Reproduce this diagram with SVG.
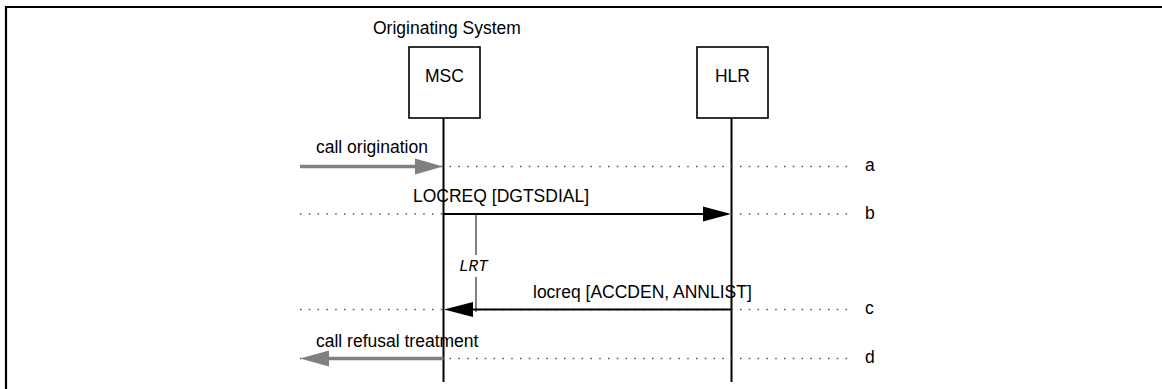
<svg xmlns="http://www.w3.org/2000/svg" width="1162" height="389" viewBox="0 0 1162 389">
<defs>
<style>
text{font-family:"Liberation Sans",Arial,sans-serif;font-size:17.5px;fill:#000}
.box{fill:#fff;stroke:#000;stroke-width:1.6}
.life{stroke:#000;stroke-width:2}
.dot{stroke:#555;stroke-width:1.5;stroke-dasharray:1.5 7.3;fill:none}
.msg{stroke:#000;stroke-width:2;fill:none}
.ext{stroke:#808080;stroke-width:3.5;fill:none}
.timer{stroke:#808080;stroke-width:2;fill:none}
.lrt{font-family:"Liberation Mono","Courier New",monospace;font-style:italic;font-size:16px}
</style>
</defs>
<rect width="1162" height="389" fill="#fff"/>
<path d="M6,400 V7 H1170" fill="none" stroke="#000" stroke-width="2.2"/>
<text x="373" y="34">Originating System</text>
<g id="msc">
<line class="life" x1="443.5" y1="118" x2="443.5" y2="382"/>
<rect class="box" x="409" y="47" width="71" height="71"/>
<text x="444.5" y="82" text-anchor="middle">MSC</text>
</g>
<g id="hlr">
<line class="life" x1="731.5" y1="118" x2="731.5" y2="382"/>
<rect class="box" x="697" y="47" width="71" height="71"/>
<text x="732.5" y="82" text-anchor="middle">HLR</text>
</g>
<g id="connectors">
<line class="dot" x1="300" y1="166.5" x2="852" y2="166.5"/>
<line class="dot" x1="300" y1="214" x2="852" y2="214"/>
<line class="dot" x1="300" y1="309.5" x2="852" y2="309.5"/>
<line class="dot" x1="300" y1="358.5" x2="852" y2="358.5"/>
<line class="ext" x1="300" y1="166.5" x2="416" y2="166.5"/>
<polygon points="443,166.5 415,158.5 415,174.5" fill="#808080"/>
<text x="316" y="153">call origination</text>
<line class="msg" x1="443.5" y1="214" x2="704" y2="214"/>
<polygon points="731,214 703,206.5 703,221.5" fill="#000"/>
<text x="413" y="202">LOCREQ [DGTSDIAL]</text>
<line class="timer" x1="476" y1="215" x2="476" y2="255"/>
<line class="timer" x1="476" y1="277" x2="476" y2="312"/>
<text class="lrt" x="459" y="271">LRT</text>
<line class="msg" x1="731.5" y1="309.5" x2="472" y2="309.5"/>
<polygon points="444,309.5 473,302 473,317" fill="#000"/>
<text x="533" y="298">locreq [ACCDEN, ANNLIST]</text>
<line class="ext" x1="443.5" y1="358.5" x2="328" y2="358.5"/>
<polygon points="300,358.5 329,350.5 329,366.5" fill="#808080"/>
<text x="316" y="347">call refusal treatment</text>
<text x="865" y="171">a</text>
<text x="865" y="219">b</text>
<text x="865" y="314">c</text>
<text x="865" y="363">d</text>
</g>
</svg>
